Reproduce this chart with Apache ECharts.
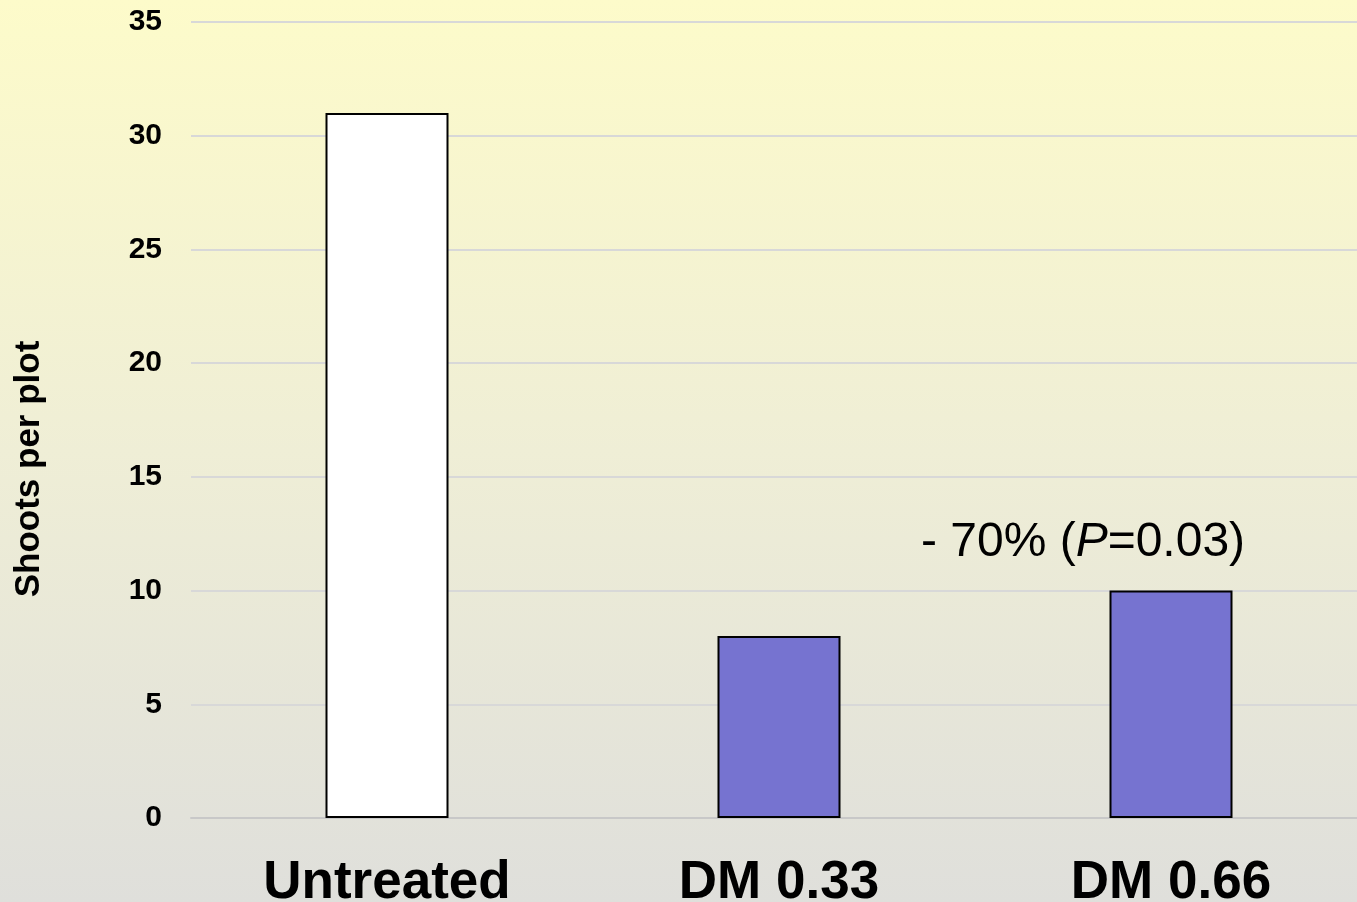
<!DOCTYPE html>
<html>
<head>
<meta charset="utf-8">
<script src="https://cdn.jsdelivr.net/npm/echarts@6/dist/echarts.min.js"></script>
<style>html,body{margin:0;padding:0;}#c{width:1357px;height:902px;}</style>
</head>
<body>
<div id="c"></div>
<script>
const categories = ['Untreated', 'DM 0.33', 'DM 0.66'];
const shootsPerPlot = [31, 8, 10];
const yTicks = [0, 5, 10, 15, 20, 25, 30, 35];
const axisTitle = 'Shoots per plot';
const annotation = { category: 'DM 0.66', pre: '- 70% (', italic: 'P', post: '=0.03)' };

const FONT = '"Liberation Sans", Arial, sans-serif';
const barColors = ['#ffffff', '#7673d0', '#7673d0'];

const chart = echarts.init(document.getElementById('c'), null, { renderer: 'canvas' });
const data = shootsPerPlot.map((v, i) => {
  const item = { value: v, itemStyle: { color: barColors[i] } };
  if (categories[i] === annotation.category) {
    item.label = {
      show: true,
      position: 'top',
      distance: 24,
      offset: [-88, 0],
      formatter: '{n|' + annotation.pre + '}{i|' + annotation.italic + '}{n|' + annotation.post + '}',
      rich: {
        n: { fontFamily: FONT, fontSize: 48, color: '#000' },
        i: { fontFamily: FONT, fontSize: 48, fontStyle: 'italic', color: '#000' }
      }
    };
  }
  return item;
});

chart.setOption({
  animation: false,
  backgroundColor: {
    type: 'linear', x: 0, y: 0, x2: 0, y2: 1,
    colorStops: [
      { offset: 0, color: '#fdfbca' },
      { offset: 0.5, color: '#efeed6' },
      { offset: 1, color: '#dfdfdb' }
    ]
  },
  grid: { left: 191, width: 1176, top: 22, bottom: 84, containLabel: false, outerBoundsMode: 'none' },
  xAxis: {
    type: 'category',
    data: categories,
    axisTick: { show: false },
    axisLine: { show: true, lineStyle: { color: '#c8c8c8', width: 2 } },
    axisLabel: { fontFamily: FONT, fontSize: 53, fontWeight: 'bold', color: '#000', margin: 39 }
  },
  yAxis: {
    type: 'value',
    min: yTicks[0],
    max: yTicks[yTicks.length - 1],
    interval: yTicks[1] - yTicks[0],
    axisLine: { show: false },
    axisTick: { show: false },
    splitLine: { lineStyle: { color: '#d8d8d8', width: 2 } },
    axisLabel: { fontFamily: FONT, fontSize: 30, fontWeight: 'bold', color: '#000', margin: 29 }
  },
  graphic: [{
    type: 'text',
    x: 29, y: 469,
    rotation: Math.PI / 2,
    style: {
      text: axisTitle,
      fontFamily: FONT, fontSize: 35, fontWeight: 'bold', fill: '#000',
      textAlign: 'center', textVerticalAlign: 'middle'
    }
  }],
  series: [{
    type: 'bar',
    data: data,
    barWidth: 123,
    itemStyle: { borderColor: '#000', borderWidth: 2 }
  }]
});
</script>
</body>
</html>
